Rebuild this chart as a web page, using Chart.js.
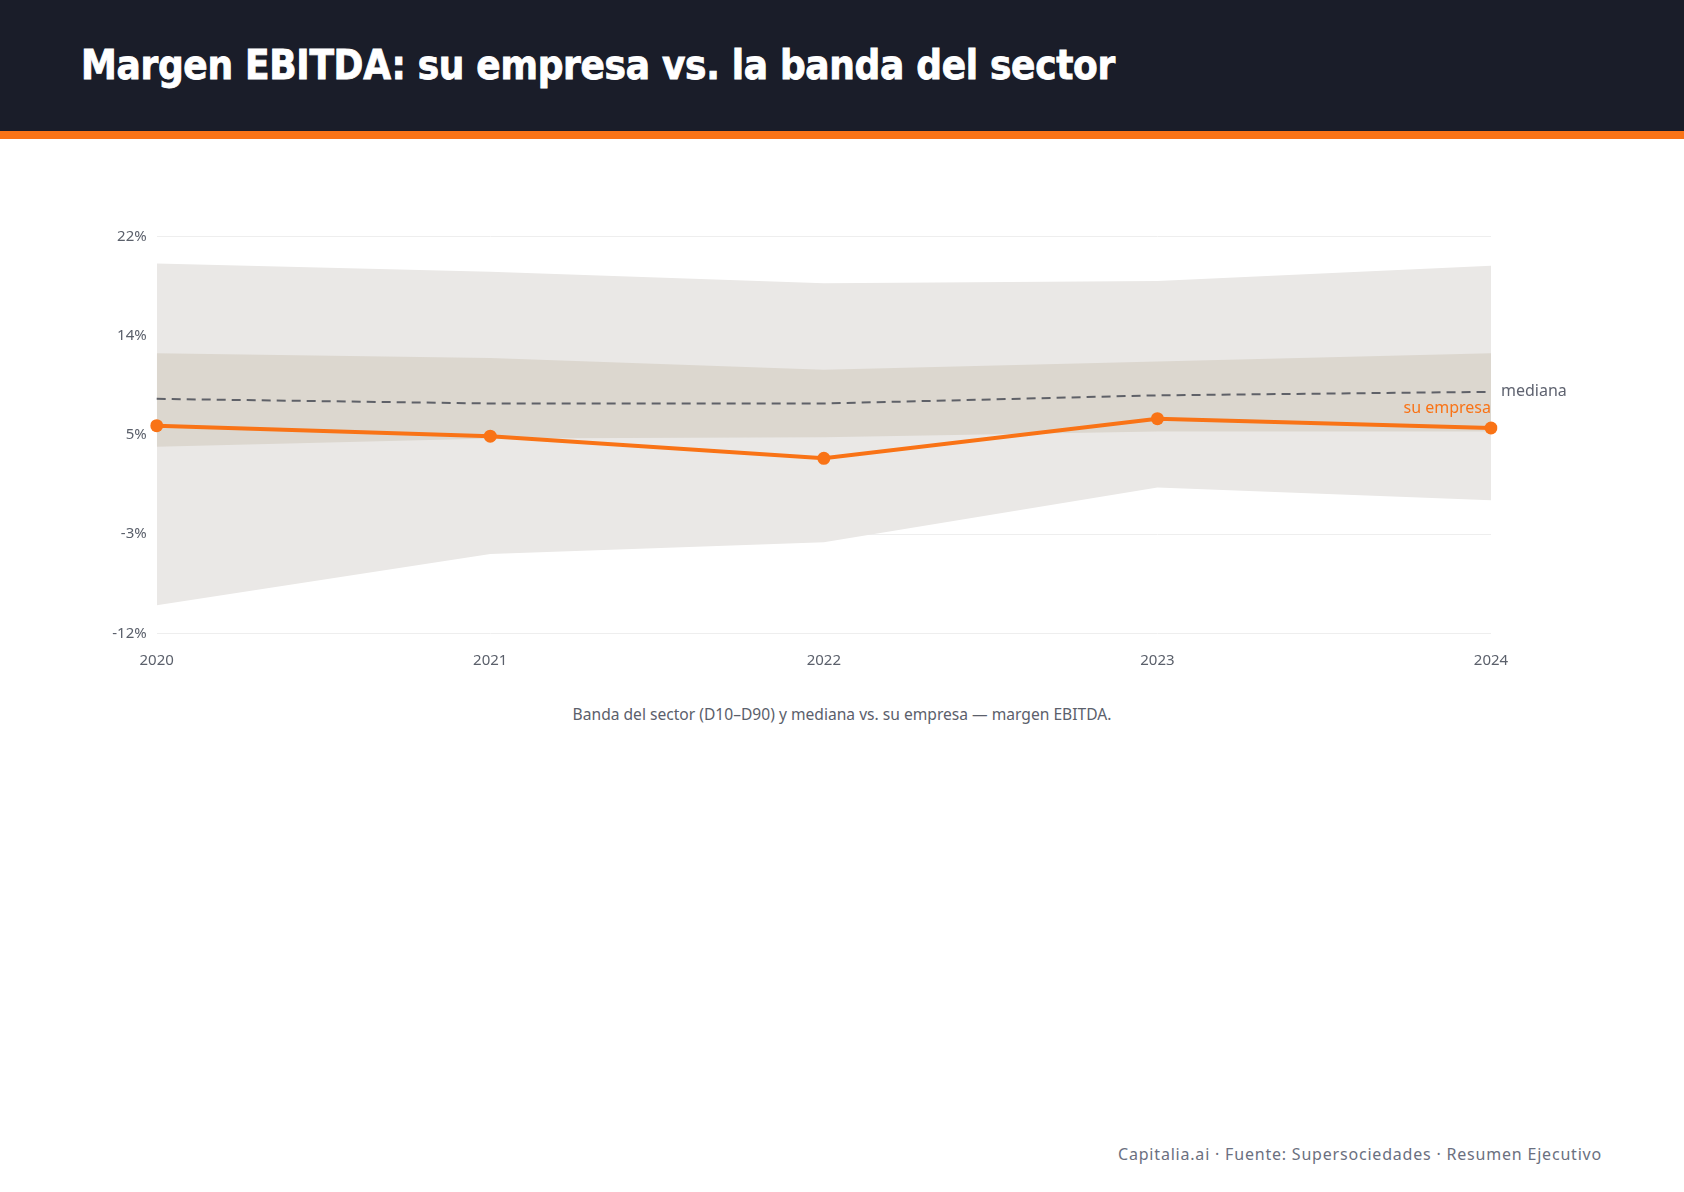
<!DOCTYPE html>
<html>
<head>
<meta charset="utf-8">
<script src="https://cdn.jsdelivr.net/npm/chart.js@4.4.1/dist/chart.umd.min.js"></script>
<style>
  html, body { margin:0; padding:0; background:#ffffff; }
  body { width:1684px; height:1192px; position:relative; overflow:hidden; font-family:"Noto Sans","Open Sans",sans-serif; }
  #header { position:absolute; left:0; top:0; width:1684px; height:131px; background:#1a1d29; }
  #stripe { position:absolute; left:0; top:131px; width:1684px; height:8px; background:#f97316; }
  #title { position:absolute; left:81px; top:37px; margin:0; color:#ffffff; font-family:"Liberation Sans Narrow","DejaVu Sans Condensed","Roboto",sans-serif; font-weight:700; font-size:46px; line-height:56px; white-space:nowrap; letter-spacing:-0.3px; -webkit-text-stroke:0.8px #ffffff; }
  #chartBox { position:absolute; left:0; top:180px; width:1684px; height:520px; }
  #caption { position:absolute; left:0; width:1684px; top:703px; text-align:center; color:#5b606b; font-size:15.6px; }
  #footer { position:absolute; right:82px; top:1143px; color:#6b7080; font-size:16px; letter-spacing:0.8px; white-space:nowrap; }
</style>
</head>
<body>
<div id="header"></div>
<div id="stripe"></div>
<h1 id="title">Margen EBITDA: su empresa vs. la banda del sector</h1>
<div id="chartBox"><canvas id="c"></canvas></div>
<div id="caption">Banda del sector (D10–D90) y mediana vs. su empresa — margen EBITDA.</div>
<div id="footer">Capitalia.ai · Fuente: Supersociedades · Resumen Ejecutivo</div>
<script>
// ---- data ----
const years   = ["2020", "2021", "2022", "2023", "2024"];
const d90     = [19.7, 19.0, 18.0, 18.2, 19.5];
const d75     = [12.0, 11.6, 10.6, 11.3, 12.0];
const mediana = [8.1, 7.7, 7.7, 8.4, 8.7];
const d25     = [4.0, 4.7, 4.8, 5.3, 5.3];
const d10     = [-9.6, -5.2, -4.2, 0.5, -0.6];
const empresa = [5.8, 4.9, 3.0, 6.4, 5.6];
const yTicks  = [-12, -3.5, 5, 13.5, 22];

// fit title width
(function(){
  const t = document.getElementById('title');
  const target = 1036;
  const w = t.getBoundingClientRect().width;
  if (w > 0) { t.style.fontSize = (46 * target / w).toFixed(2) + 'px'; }
})();

const ORANGE = '#f97316';
const tickColor = '#5b606b';
const fontFam = '"Noto Sans","Open Sans",sans-serif';

const endLabels = {
  id: 'endLabels',
  afterDatasetsDraw(chart) {
    const ctx = chart.ctx;
    const x = chart.scales.x, y = chart.scales.y;
    const last = years.length - 1;
    const px = x.getPixelForValue(last);
    ctx.save();
    ctx.font = '16px ' + fontFam;
    ctx.textBaseline = 'middle';
    ctx.fillStyle = '#5f6370';
    ctx.textAlign = 'left';
    ctx.fillText('mediana', px + 10, y.getPixelForValue(mediana[last]));
    ctx.fillStyle = ORANGE;
    ctx.textAlign = 'right';
    ctx.fillText('su empresa', px, y.getPixelForValue(empresa[last]) - 20);
    ctx.restore();
  }
};

new Chart(document.getElementById('c'), {
  type: 'line',
  data: {
    labels: years,
    datasets: [
      { label:'su empresa', data: empresa, borderColor: ORANGE, backgroundColor: ORANGE, borderWidth: 4,
        pointRadius: 6.5, pointHoverRadius: 6.5, pointBackgroundColor: ORANGE, pointBorderWidth: 0, fill: false, order: 0, tension: 0 },
      { label:'mediana', data: mediana, borderColor: '#5f6168', borderWidth: 2, borderDash: [9, 6],
        pointRadius: 0, fill: false, order: 1, tension: 0 },
      { label:'D75', data: d75, borderWidth: 0, borderColor: 'rgba(0,0,0,0)', pointRadius: 0,
        backgroundColor: '#dcd7cf', fill: { target: 3 }, order: 2, tension: 0 },
      { label:'D25', data: d25, borderWidth: 0, borderColor: 'rgba(0,0,0,0)', pointRadius: 0, fill: false, order: 3, tension: 0 },
      { label:'D90', data: d90, borderWidth: 0, borderColor: 'rgba(0,0,0,0)', pointRadius: 0,
        backgroundColor: '#eae8e6', fill: { target: 5 }, order: 4, tension: 0 },
      { label:'D10', data: d10, borderWidth: 0, borderColor: 'rgba(0,0,0,0)', pointRadius: 0, fill: false, order: 5, tension: 0 }
    ]
  },
  options: {
    responsive: true,
    maintainAspectRatio: false,
    animation: false,
    layout: { padding: { left: 0, right: 193, top: 56.7, bottom: 26.7 } },
    plugins: { legend: { display: false }, tooltip: { enabled: false } },
    scales: {
      x: {
        offset: false,
        grid: { display: false },
        border: { display: false },
        ticks: { color: tickColor, font: { size: 15, family: fontFam }, padding: 10, maxRotation: 0 },
        afterFit(s) { s.height = 40; }
      },
      y: {
        min: -12, max: 22,
        grid: { color: '#eeeeee', lineWidth: 1, drawTicks: false },
        border: { display: false },
        afterBuildTicks(s) { s.ticks = yTicks.map(v => ({ value: v })); },
        ticks: { color: tickColor, font: { size: 15, family: fontFam }, padding: 10,
                 callback: (v) => Math.round(v) + '%' },
        afterFit(s) { s.width = 156.7; }
      }
    }
  },
  plugins: [endLabels]
});
</script>
</body>
</html>
